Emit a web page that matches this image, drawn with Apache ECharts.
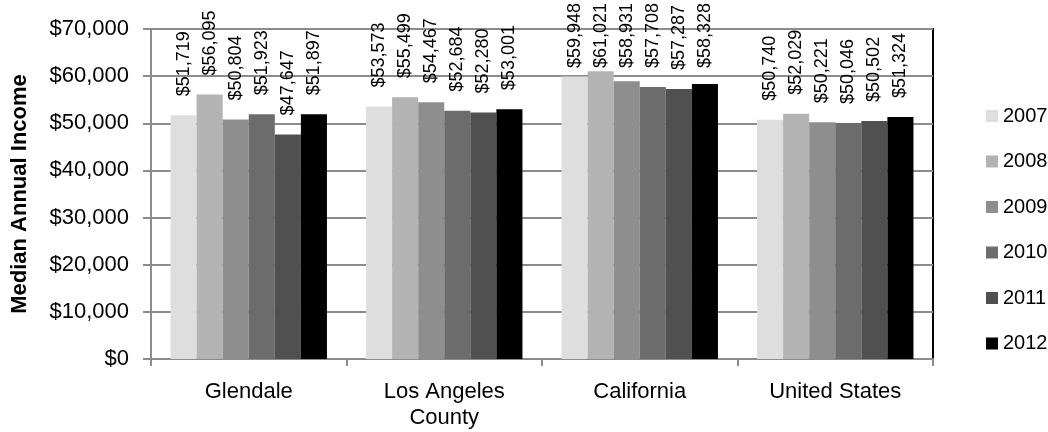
<!DOCTYPE html>
<html>
<head>
<meta charset="utf-8">
<style>
  html, body { margin: 0; padding: 0; background: #fff; }
  #chart { width: 1048px; height: 432px; }
</style>
<script src="https://cdn.jsdelivr.net/npm/echarts@6/dist/echarts.min.js"></script>
</head>
<body>
<div id="chart"></div>
<script>
// Median annual household income by area, 2007-2012
const categories = ['Glendale', 'Los Angeles\nCounty', 'California', 'United States'];
const years = ['2007', '2008', '2009', '2010', '2011', '2012'];

const income2007 = [51719, 53573, 59948, 50740];
const income2008 = [56095, 55499, 61021, 52029];
const income2009 = [50804, 54467, 58931, 50221];
const income2010 = [51923, 52684, 57708, 50046];
const income2011 = [47647, 52280, 57287, 50502];
const income2012 = [51897, 53001, 58328, 51324];

const yTicks = { min: 0, max: 70000, interval: 10000 };

const seriesValues = [income2007, income2008, income2009, income2010, income2011, income2012];
const shades = ['#dedede', '#b3b3b3', '#8e8e8e', '#6c6c6c', '#505050', '#000000'];

const FONT = '"Liberation Sans", Arial, sans-serif';
const LABEL_SIZE = 18;
const LABEL_GAP = 19;      // space between bar end and its value label
const TOP_LIMIT = 3;       // value labels are kept inside the canvas

const dollars = v => '$' + Number(v).toLocaleString('en-US');

// text length of a value label, used to keep tall labels on the canvas
const measureCtx = document.createElement('canvas').getContext('2d');
measureCtx.font = LABEL_SIZE + 'px ' + FONT;
const labelLength = v => measureCtx.measureText(dollars(v)).width;

const chart = echarts.init(document.getElementById('chart'), null, { renderer: 'canvas' });

function buildSeries(distanceFor) {
  return years.map((yr, i) => ({
    name: yr,
    type: 'bar',
    barGap: '0%',
    barCategoryGap: '20%',
    itemStyle: { color: shades[i] },
    data: seriesValues[i].map((v, j) => ({
      value: v,
      label: { distance: distanceFor(v, j) }
    })),
    label: {
      show: true,
      position: 'top',
      rotate: 90,
      align: 'left',
      verticalAlign: 'middle',
      fontFamily: FONT,
      fontSize: LABEL_SIZE,
      color: '#000',
      formatter: p => dollars(p.value)
    }
  }));
}

chart.setOption({
  animation: false,
  backgroundColor: '#ffffff',
  color: shades,
  grid: {
    left: 151, right: 115, top: 29, bottom: 73,
    show: true, borderColor: '#000000', borderWidth: 2, backgroundColor: 'transparent'
  },
  legend: {
    orient: 'vertical',
    left: 981, top: 101,
    itemWidth: 12, itemHeight: 12, itemGap: 25.5, itemTextGap: 4,
    icon: 'rect',
    textStyle: { fontFamily: FONT, fontSize: 20, color: '#000', lineHeight: 20 },
    data: years
  },
  xAxis: {
    type: 'category',
    data: categories,
    axisLine: { lineStyle: { color: '#8c8c8c', width: 2 } },
    axisTick: { show: true, length: 7, lineStyle: { color: '#8c8c8c', width: 2 } },
    axisLabel: {
      fontFamily: FONT, fontSize: 22, color: '#000', margin: 20, lineHeight: 26,
      interval: 0
    },
    splitLine: { show: false }
  },
  yAxis: {
    type: 'value',
    min: yTicks.min, max: yTicks.max, interval: yTicks.interval,
    name: 'Median Annual Income',
    nameLocation: 'middle',
    nameGap: 120,
    nameTextStyle: { fontFamily: FONT, fontSize: 22, fontWeight: 'bold', color: '#000' },
    axisLine: { show: true, lineStyle: { color: '#8c8c8c', width: 2 } },
    axisTick: { show: true, length: 8, lineStyle: { color: '#8c8c8c', width: 2 } },
    axisLabel: {
      fontFamily: FONT, fontSize: 22, color: '#000', margin: 22,
      formatter: dollars
    },
    splitLine: { show: true, lineStyle: { color: '#8c8c8c', width: 2 } }
  },
  series: buildSeries(() => LABEL_GAP)
});

// Pull labels of the tallest bars down so they stay within the canvas
chart.setOption({
  series: buildSeries(v => {
    const barTop = chart.convertToPixel({ yAxisIndex: 0 }, v);
    const room = barTop - TOP_LIMIT - labelLength(v);
    return Math.max(2, Math.min(LABEL_GAP, room));
  })
});
</script>
</body>
</html>
